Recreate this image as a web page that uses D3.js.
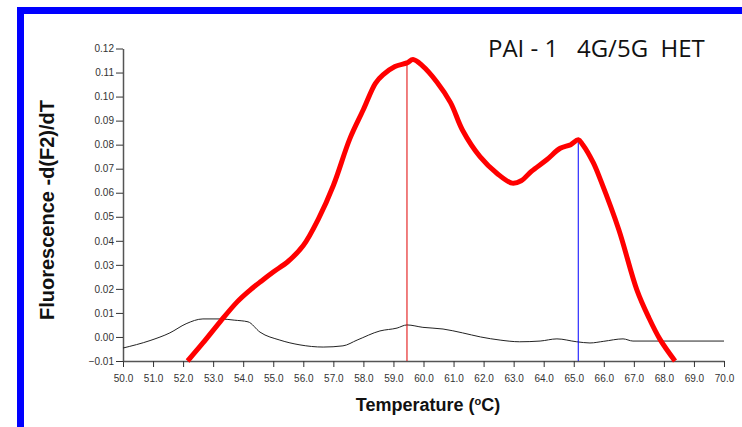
<!DOCTYPE html>
<html>
<head>
<meta charset="utf-8">
<script src="https://cdn.jsdelivr.net/npm/d3@7"></script>
<style>
  body { margin: 0; background: #fff; }
  svg { display: block; }
  .tick text { font-family: "Liberation Sans", Arial, sans-serif; font-size: 10px; fill: #333; }
</style>
</head>
<body>
<div id="root"></div>
<script>
// melt curve of the sample (red) and the blank (black)
const sampleTemp = [52.15, 52.66, 53.23, 53.8, 54.2, 54.6, 55.0, 55.5, 56.0, 56.5, 57.0, 57.55, 58.0, 58.4, 58.65, 59.05, 59.45, 59.65, 59.95, 60.45, 60.9, 61.3, 61.88, 62.45, 62.95, 63.25, 63.6, 64.1, 64.55, 64.9, 65.15, 65.3, 65.65, 65.9, 66.5, 67.1, 67.5, 67.87, 68.37];
const sampleVal = [-0.010, -0.0025, 0.0063, 0.0146, 0.0192, 0.0232, 0.027, 0.0315, 0.038, 0.049, 0.063, 0.0825, 0.0946, 0.1055, 0.109, 0.1125, 0.114, 0.1154, 0.113, 0.106, 0.0975, 0.086, 0.075, 0.068, 0.064, 0.065, 0.069, 0.0737, 0.0785, 0.080, 0.082, 0.080, 0.0725, 0.065, 0.0446, 0.0196, 0.008, -0.001, -0.010];

const blankTemp = [50.0, 50.9, 51.56, 52.1, 52.66, 53.23, 53.7, 54.16, 54.56, 55.22, 55.89, 56.66, 57.32, 57.79, 58.55, 59.12, 59.45, 59.98, 60.65, 61.3, 61.9, 62.55, 63.2, 63.88, 64.44, 65.1, 65.54, 66.0, 66.64, 66.97, 70.0];
const blankVal = [-0.0046, -0.0015, 0.0017, 0.0055, 0.0075, 0.0075, 0.007, 0.0063, 0.002, -0.0013, -0.0033, -0.0042, -0.0037, -0.0013, 0.0025, 0.0037, 0.005, 0.004, 0.0033, 0.0017, 0.0, -0.0013, -0.002, -0.0017, -0.0008, -0.002, -0.0025, -0.0018, -0.0008, -0.0017, -0.0017];

// peak markers
const peakTemp = [59.45, 65.15];
const peakTop = [0.1145, 0.082];
const peakColor = ["#e00000", "#0000ff"];

const xTicks = d3.range(50, 70.01, 1);
const yTicks = [-0.01, 0, 0.01, 0.02, 0.03, 0.04, 0.05, 0.06, 0.07, 0.08, 0.09, 0.10, 0.11, 0.12];

const width = 742;
const height = 427;

const svg = d3.select("#root")
  .append("svg")
  .attr("width", width)
  .attr("height", height);

// blue frame (top and left)
svg.append("rect").attr("x", 17).attr("y", 7).attr("width", width - 17).attr("height", 7).attr("fill", "#0000ff");
svg.append("rect").attr("x", 17).attr("y", 7).attr("width", 7).attr("height", height - 7).attr("fill", "#0000ff");

const x = d3.scaleLinear().domain([50, 70]).range([123, 724]);
const y = d3.scaleLinear().domain([-0.01, 0.12]).range([361, 48.5]);

// Axes
const xAxis = d3.axisBottom(x).tickValues(xTicks).tickFormat(d3.format(".1f")).tickSize(6).tickSizeOuter(0);
const yAxis = d3.axisLeft(y).tickValues(yTicks).tickFormat(d3.format(".2f")).tickSize(7).tickSizeOuter(0);

const gx = svg.append("g").attr("transform", `translate(0,${y(-0.01)})`).call(xAxis);
const gy = svg.append("g").attr("transform", `translate(${x(50)},0)`).call(yAxis);
[gx, gy].forEach((g) => {
  g.select(".domain").attr("stroke", "#555").attr("stroke-width", 1.5);
  g.selectAll(".tick line").attr("stroke", "#333");
});
gx.selectAll(".tick text").attr("dy", "1.2em");
gy.selectAll(".tick text").attr("x", -9);

// Lines
const blank = blankTemp.map((t, i) => [t, blankVal[i]]);
const sample = sampleTemp.map((t, i) => [t, sampleVal[i]]);

svg.append("path")
  .datum(blank)
  .attr("fill", "none")
  .attr("stroke", "#222")
  .attr("stroke-width", 1)
  .attr("d", d3.line().x((d) => x(d[0])).y((d) => y(d[1])).curve(d3.curveMonotoneX));

peakTemp.forEach((t, i) => {
  svg.append("line")
    .attr("x1", x(t)).attr("x2", x(t))
    .attr("y1", y(peakTop[i])).attr("y2", y(-0.01))
    .attr("stroke", peakColor[i])
    .attr("stroke-width", 1);
});

svg.append("path")
  .datum(sample)
  .attr("fill", "none")
  .attr("stroke", "#ff0000")
  .attr("stroke-width", 5)
  .attr("stroke-linejoin", "round")
  .attr("d", d3.line().x((d) => x(d[0])).y((d) => y(d[1])).curve(d3.curveCatmullRom));

// Titles
svg.append("text")
  .attr("x", 488)
  .attr("y", 57)
  .attr("font-family", "'Open Sans', sans-serif")
  .attr("font-size", 24)
  .attr("fill", "#111")
  .style("white-space", "pre")
  .text("PAI - 1   4G/5G  HET");

svg.append("text")
  .attr("transform", "translate(54,210) rotate(-90)")
  .attr("text-anchor", "middle")
  .attr("font-family", "'Liberation Sans', Arial, sans-serif")
  .attr("font-weight", "bold")
  .attr("font-size", 20)
  .attr("fill", "#111")
  .text("Fluorescence -d(F2)/dT");

const xt = svg.append("text")
  .attr("x", 428)
  .attr("y", 411)
  .attr("text-anchor", "middle")
  .attr("font-family", "'Liberation Sans', Arial, sans-serif")
  .attr("font-weight", "bold")
  .attr("font-size", 18)
  .attr("fill", "#111");
xt.append("tspan").text("Temperature (");
xt.append("tspan").attr("font-size", 11).attr("dy", -6).text("o");
xt.append("tspan").attr("dy", 6).text("C)");
</script>
</body>
</html>
